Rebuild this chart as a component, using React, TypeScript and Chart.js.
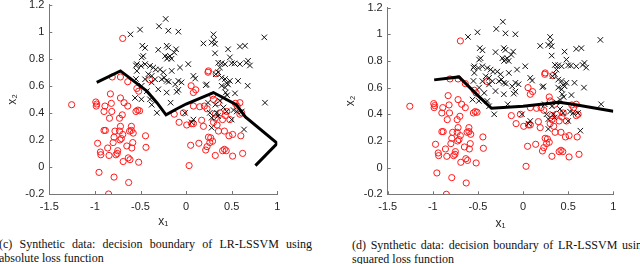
import React, { useEffect, useRef } from "react";
import { Chart, registerables } from "chart.js";

Chart.register(...registerables);

// ---- tick values / labels ----
const xTicks = [-1.5, -1, -0.5, 0, 0.5, 1];
const xTickLabels = ["-1.5", "-1", "-0.5", "0", "0.5", "1"];
const yTicks = [-0.2, 0, 0.2, 0.4, 0.6, 0.8, 1, 1.2];
const yTickLabels = ["-0.2", "0", "0.2", "0.4", "0.6", "0.8", "1", "1.2"];

// ---- class -1 (red circles) ----
const redCircles: number[][] = [
  [-1.255, 0.46], [-0.695, 0.95], [-0.99, 0.48], [-0.98, 0.465], [-0.985, 0.45],
  [-0.89, 0.45], [-0.9, 0.41], [-0.82, 0.47], [-0.83, 0.54], [-0.81, 0.665],
  [-0.72, 0.665], [-0.64, 0.63], [-0.72, 0.51], [-0.68, 0.475], [-0.64, 0.45],
  [-0.815, 0.41], [-0.84, 0.36], [-0.73, 0.36], [-0.7, 0.385], [-0.54, 0.58],
  [-0.52, 0.56], [-0.53, 0.42], [-0.55, 0.41], [-0.51, 0.415], [-0.4, 0.645],
  [-0.9, 0.27], [-0.885, 0.27], [-0.78, 0.265], [-0.72, 0.3], [-0.6, 0.3],
  [-0.62, 0.265], [-0.73, 0.265], [-0.58, 0.25], [-0.695, 0.24], [-0.725, 0.2],
  [-0.8, 0.18], [-0.585, 0.18], [-0.97, 0.175], [-0.86, 0.14], [-0.65, 0.155],
  [-0.595, 0.14], [-0.94, 0.11], [-0.935, 0.09], [-0.845, 0.085], [-0.77, 0.09],
  [-0.755, 0.1], [-0.634, 0.067], [-0.615, 0.054], [-0.69, 0.04], [-0.52, 0.035],
  [-0.955, -0.04], [-0.79, -0.075], [-0.63, -0.115], [-0.85, -0.2], [-0.445, 0.23],
  [-0.44, 0.145], [-0.79, 0.22], [-0.71, 0.21], [-0.75, 0.12], [-0.6, 0.27],
  [0.033, 0.01], [0.05, 0.16], [0.14, 0.175], [0.215, 0.125], [0.23, 0.15],
  [0.32, 0.085], [0.4, 0.12], [0.42, 0.13], [0.44, 0.12], [0.51, 0.08],
  [0.62, 0.1], [0.245, 0.22], [0.27, 0.215], [0.29, 0.19], [0.26, 0.18],
  [0.355, 0.265], [0.42, 0.265], [0.47, 0.23], [0.51, 0.24], [0.6, 0.23],
  [0.19, 0.3], [0.17, 0.345], [0.3, 0.33], [0.32, 0.36], [0.34, 0.31],
  [0.32, 0.39], [0.48, 0.35], [0.59, 0.39], [0.007, 0.31], [0.06, 0.32],
  [0.08, 0.32], [-0.077, 0.33], [-0.13, 0.39], [-0.03, 0.4], [0.08, 0.45],
  [0.15, 0.445], [0.2, 0.45], [0.23, 0.43], [0.106, 0.57], [0.055, 0.6],
  [0.08, 0.55], [0.245, 0.71], [0.24, 0.7], [0.33, 0.69], [0.35, 0.475],
  [0.445, 0.41], [0.54, 0.47], [0.59, 0.475], [0.56, 0.45], [0.61, 0.4],
  [0.37, 0.4], [0.3, 0.5], [0.29, 0.53], [0.4, 0.35], [0.43, 0.38],
];

// ---- class +1 (black crosses) ----
const blackCrosses: number[][] = [
  [-0.61, 0.98], [-0.505, 1.015], [-0.297, 1.04], [-0.224, 1.094], [-0.195, 1.007],
  [-0.085, 1.0], [-0.48, 0.896], [-0.45, 0.88], [-0.305, 0.866], [-0.213, 0.896],
  [-0.195, 0.883], [-0.13, 0.846], [-0.11, 0.87], [-0.487, 0.81], [-0.47, 0.82],
  [-0.23, 0.82], [-0.195, 0.81], [-0.177, 0.82], [-0.21, 0.8], [-0.16, 0.8],
  [-0.54, 0.76], [-0.494, 0.747], [-0.45, 0.76], [-0.396, 0.747], [-0.36, 0.735],
  [-0.333, 0.72], [-0.286, 0.72], [-0.25, 0.7], [-0.158, 0.71], [-0.067, 0.735],
  [0.024, 0.76], [-0.55, 0.75], [-0.414, 0.685], [-0.377, 0.673], [-0.34, 0.648],
  [-0.268, 0.648], [-0.213, 0.636], [-0.45, 0.648], [-0.377, 0.624], [-0.085, 0.636],
  [0.08, 0.673], [0.1, 0.653], [-0.305, 0.574], [-0.213, 0.55], [-0.103, 0.555],
  [-0.085, 0.57], [0.215, 0.604], [-0.54, 0.71], [-0.487, 0.6], [-0.55, 0.65],
  [-0.56, 0.51], [-0.49, 0.5], [-0.43, 0.56], [-0.396, 0.5], [-0.377, 0.46],
  [-0.32, 0.4], [-0.17, 0.475], [-0.012, 0.4], [0.08, 0.35], [0.06, 0.33],
  [-0.24, 0.66], [-0.19, 0.63], [-0.12, 0.61], [-0.05, 0.625],
  [0.3, 0.98], [0.306, 0.94], [0.28, 0.92], [0.317, 0.91], [0.19, 0.913],
  [0.46, 0.87], [0.59, 0.89], [0.646, 0.896], [0.857, 0.958], [0.317, 0.84],
  [0.353, 0.77], [0.39, 0.767], [0.427, 0.76], [0.5, 0.767], [0.48, 0.81],
  [0.53, 0.765], [0.59, 0.76], [0.66, 0.77], [0.68, 0.785], [0.7, 0.75],
  [0.37, 0.735], [0.353, 0.7], [0.39, 0.66], [0.427, 0.65], [0.445, 0.62],
  [0.48, 0.636], [0.57, 0.636], [0.675, 0.6], [0.39, 0.6], [0.427, 0.587],
  [0.434, 0.55], [0.536, 0.544], [0.226, 0.61], [0.865, 0.475], [0.24, 0.475],
  [0.32, 0.46], [0.37, 0.49], [0.41, 0.44], [0.26, 0.4], [0.335, 0.4],
  [0.28, 0.364], [0.35, 0.376], [0.445, 0.41], [0.555, 0.41], [0.61, 0.41],
  [0.5, 0.35], [0.635, 0.277], [0.28, 0.29], [0.325, 0.685], [0.46, 0.61],
  [0.41, 0.51], [0.45, 0.53], [0.52, 0.42],
];

// ---- decision boundaries ----
const boundaryAbsolute: number[][] = [
  [-0.98, 0.625], [-0.72, 0.71], [-0.43, 0.56], [-0.32, 0.475], [-0.22, 0.385],
  [-0.1, 0.43], [0.0, 0.465], [0.3, 0.55], [0.55, 0.46], [0.65, 0.37],
  [1.0, 0.175], [0.76, 0.01],
];
const boundarySquared: number[][] = [
  [-0.985, 0.658], [-0.71, 0.68], [-0.5, 0.54], [-0.35, 0.445], [0.0, 0.46],
  [0.4, 0.49], [0.55, 0.475], [1.0, 0.423],
];

const AXIS = "#777777";
const TEXT = "#262626";

const inwardTicks = {
  id: "inwardTicks",
  afterDraw(chart: any) {
    const { ctx, chartArea, scales } = chart;
    const xs = scales.x;
    const ys = scales.y;
    ctx.save();
    ctx.strokeStyle = AXIS;
    ctx.lineWidth = 1;
    ctx.beginPath();
    xs.ticks.forEach((t: any) => {
      const px = Math.round(xs.getPixelForValue(t.value)) + 0.5;
      ctx.moveTo(px, chartArea.bottom);
      ctx.lineTo(px, chartArea.bottom - 3);
    });
    ys.ticks.forEach((t: any) => {
      const py = Math.round(ys.getPixelForValue(t.value)) + 0.5;
      ctx.moveTo(chartArea.left, py);
      ctx.lineTo(chartArea.left + 3, py);
    });
    ctx.stroke();
    ctx.restore();
  },
};

type PanelProps = {
  boundary: number[][];
  left: number;
  top: number;
  width: number;
  height: number;
  yWidth: number;
  xHeight: number;
  padTop: number;
  padRight: number;
  yTitlePad: number;
};

function Panel(p: PanelProps) {
  const ref = useRef<HTMLCanvasElement | null>(null);
  useEffect(() => {
    if (!ref.current) return;
    const toPts = (a: number[][]) => a.map(([x, y]) => ({ x, y }));
    const chart = new Chart(ref.current, {
      type: "scatter",
      data: {
        datasets: [
          {
            data: toPts(p.boundary),
            showLine: true,
            borderColor: "#000000",
            borderWidth: 3,
            pointRadius: 0,
            fill: false,
          } as any,
          {
            data: toPts(blackCrosses),
            pointStyle: "crossRot",
            pointRadius: 3.9,
            borderColor: "#111111",
            borderWidth: 1,
            backgroundColor: "rgba(0,0,0,0)",
          },
          {
            data: toPts(redCircles),
            pointStyle: "circle",
            pointRadius: 3.1,
            borderColor: "#ff1a1a",
            borderWidth: 1,
            backgroundColor: "rgba(0,0,0,0)",
          },
        ],
      },
      options: {
        animation: false,
        responsive: false,
        devicePixelRatio: 1,
        events: [],
        layout: { padding: { left: 0, right: p.padRight, top: p.padTop, bottom: 0 } },
        plugins: { legend: { display: false }, tooltip: { enabled: false } },
        scales: {
          x: {
            type: "linear",
            min: -1.5,
            max: 1,
            afterBuildTicks: (s: any) => {
              s.ticks = xTicks.map((v) => ({ value: v }));
            },
            afterFit: (s: any) => {
              s.height = p.xHeight;
            },
            ticks: {
              autoSkip: false,
              maxRotation: 0,
              padding: 6,
              color: TEXT,
              font: { family: "'Liberation Sans', Arial, sans-serif", size: 11 },
              callback: (_v: any, i: number) => xTickLabels[i],
            },
            grid: { drawOnChartArea: false, drawTicks: false },
            border: { display: true, color: AXIS, width: 1 },
            title: {
              display: true,
              text: "x\u2081",
              color: TEXT,
              padding: { top: 0, bottom: 0 },
              font: { family: "'Liberation Sans', Arial, sans-serif", size: 12 },
            },
          },
          y: {
            type: "linear",
            min: -0.2,
            max: 1.2,
            afterBuildTicks: (s: any) => {
              s.ticks = yTicks.map((v) => ({ value: v }));
            },
            afterFit: (s: any) => {
              s.width = p.yWidth;
            },
            ticks: {
              autoSkip: false,
              padding: 5,
              color: TEXT,
              font: { family: "'Liberation Sans', Arial, sans-serif", size: 11 },
              callback: (_v: any, i: number) => yTickLabels[i],
            },
            grid: { drawOnChartArea: false, drawTicks: false },
            border: { display: true, color: AXIS, width: 1 },
            title: {
              display: true,
              text: "x\u2082",
              color: TEXT,
              padding: { top: p.yTitlePad, bottom: 0 },
              font: { family: "'Liberation Sans', Arial, sans-serif", size: 12 },
            },
          },
        },
      },
      plugins: [inwardTicks],
    });
    return () => chart.destroy();
  }, []);
  return (
    <canvas
      ref={ref}
      width={p.width}
      height={p.height}
      style={{ position: "absolute", left: p.left, top: p.top, width: p.width, height: p.height }}
    />
  );
}

const captionStyle: React.CSSProperties = {
  position: "absolute",
  fontFamily: "'Liberation Serif', 'Times New Roman', serif",
  fontSize: 12,
  lineHeight: "14px",
  color: "#111",
  textAlign: "justify",
  whiteSpace: "normal",
};

export default function App() {
  return (
    <div
      style={{
        position: "fixed",
        left: 0,
        top: 0,
        width: 640,
        height: 264,
        overflow: "hidden",
        background: "#fff",
      }}
    >
      <Panel
        boundary={boundaryAbsolute}
        left={0}
        top={-7}
        width={320}
        height={236}
        yWidth={49.3}
        xHeight={35}
        padTop={7.5}
        padRight={42.7}
        yTitlePad={5.4}
      />
      <Panel
        boundary={boundarySquared}
        left={320}
        top={-4}
        width={320}
        height={235}
        yWidth={67.7}
        xHeight={36.7}
        padTop={8}
        padRight={26.7}
        yTitlePad={23.4}
      />
      <div style={{ ...captionStyle, left: -1, top: 237, width: 313 }}>
        (c) Synthetic data: decision boundary of LR-LSSVM using absolute loss function
      </div>
      <div style={{ ...captionStyle, left: 352, top: 238, width: 296 }}>
        (d) Synthetic data: decision boundary of LR-LSSVM using squared loss function
      </div>
    </div>
  );
}
